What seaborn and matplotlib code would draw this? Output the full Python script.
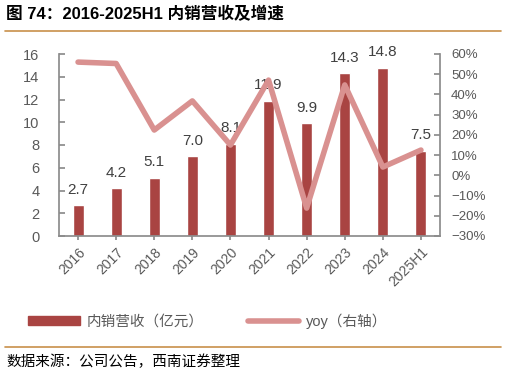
import matplotlib
matplotlib.use("Agg")
import matplotlib.pyplot as plt
import seaborn as sns
import pandas as pd
from matplotlib.patches import Rectangle
from matplotlib.lines import Line2D
from matplotlib.ticker import FuncFormatter, MultipleLocator

years = ["2016", "2017", "2018", "2019", "2020", "2021", "2022", "2023", "2024", "2025H1"]
revenue = [2.7, 4.2, 5.1, 7.0, 8.1, 11.9, 9.9, 14.3, 14.8, 7.5]
yoy = [56.0, 55.3, 22.4, 36.8, 15.0, 47.1, -16.2, 44.7, 4.1, 12.5]

sns.set_theme(style="white")
plt.rcParams['font.family'] = ['Liberation Sans', 'Noto Sans CJK SC']
plt.rcParams['axes.unicode_minus'] = True

bar_color = "#A94442"
line_color = "#D99190"
grey = "#595959"
spine_c = "#8C8C8C"

df = pd.DataFrame({"year": years, "revenue": revenue, "yoy": yoy})

fig = plt.figure(figsize=(5.07, 3.79), dpi=100)
ax = fig.add_axes([59/507, 1-236/379, (440-59)/507, (236-54)/379])

sns.barplot(data=df, x="year", y="revenue", ax=ax, color=bar_color, width=0.29,
            saturation=1, order=years)
ax.set_ylim(0, 16)
ax.yaxis.set_major_locator(MultipleLocator(2))
ax.set_xlim(-0.5, len(years) - 0.5)
ax.set_xlabel("")
ax.set_ylabel("")

for i, v in enumerate(revenue):
    ax.text(i, v + 0.75, f"{v:.1f}", ha="center", va="bottom", fontsize=11, color="#404040")

ax2 = ax.twinx()
sns.lineplot(x=list(range(len(years))), y=yoy, ax=ax2, color=line_color, linewidth=4,
             sort=False, solid_capstyle="round", solid_joinstyle="round")
ax2.set_ylim(-30, 60)
ax2.yaxis.set_major_locator(MultipleLocator(10))
ax2.yaxis.set_major_formatter(FuncFormatter(lambda v, p: f"{v:.0f}%".replace("-", "\u2212")))
ax2.set_xlim(-0.5, len(years) - 0.5)

for a in (ax, ax2):
    for s in a.spines.values():
        s.set_visible(False)

ax.spines["left"].set_visible(True)
ax.spines["left"].set_color(spine_c)
ax.spines["bottom"].set_visible(True)
ax.spines["bottom"].set_color(spine_c)
ax2.spines["right"].set_visible(True)
ax2.spines["right"].set_color(spine_c)

ax.tick_params(axis="y", direction="in", length=4, color=spine_c, labelcolor=grey,
               labelsize=10.5, pad=14, left=True)
ax.tick_params(axis="x", direction="out", length=3, color=spine_c, labelcolor=grey,
               labelsize=10, bottom=True)
ax2.tick_params(axis="y", direction="in", length=4, color=spine_c, labelcolor=grey,
                labelsize=9.5, pad=8, right=True)
for lab in ax.get_xticklabels():
    lab.set_rotation(45)
    lab.set_ha("right")
    lab.set_rotation_mode("anchor")

handles = [Rectangle((0, 0), 1, 1, color=bar_color),
           Line2D([0], [0], color=line_color, linewidth=4, solid_capstyle="round")]
leg = fig.legend(handles, ["内销营收（亿元）", "yoy（右轴）"], loc="center",
                 bbox_to_anchor=(0.41, 0.153), ncol=2, frameon=False, fontsize=10.5,
                 handlelength=3.5, handleheight=0.5, columnspacing=3.0, handletextpad=0.5)
for t in leg.get_texts():
    t.set_color(grey)

fig.text(0.012, 0.962, "图 74：2016-2025H1 内销营收及增速", fontsize=12, fontweight="bold",
         color="black", va="center", ha="left")
fig.add_artist(Line2D([5/507, 501/507], [1-31/379, 1-31/379], color="#C8904A", linewidth=1.2))
fig.add_artist(Line2D([5/507, 501/507], [1-347/379, 1-347/379], color="#C8904A", linewidth=1.2))
fig.text(0.012, 1-362/379, "数据来源：公司公告，西南证券整理", fontsize=10.5, style="italic",
         color="black", va="center", ha="left")

fig.savefig("out.png", dpi=100)
